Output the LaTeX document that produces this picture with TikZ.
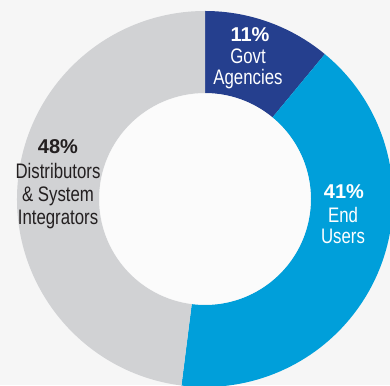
\documentclass[tikz,border=0pt]{standalone}
\usepackage{fontspec}
\setmainfont{Liberation Sans}
\newfontfamily\condfont[FakeStretch=0.8]{Liberation Sans}
\usepackage{tikz}

\definecolor{bgcol}{HTML}{F6F6F6}
\definecolor{holecol}{HTML}{FBFBFB}
\definecolor{govtcol}{HTML}{253F8E}
\definecolor{usercol}{HTML}{009FDA}
\definecolor{distcol}{HTML}{D1D2D4}
\definecolor{txtdark}{HTML}{231F20}

\begin{document}
\begin{tikzpicture}[x=1pt, y=1pt,
  pct/.style={font=\bfseries\fontsize{20}{22}\selectfont, inner sep=0pt},
  lbl/.style={align=center, font=\condfont\fontsize{21}{24}\selectfont, inner sep=0pt}]
			\fill[bgcol] (0,0) rectangle (390,385);
			\useasboundingbox (0,0) rectangle (390,385);
			\coordinate (c) at (205,186);
			% ring segments
			\foreach \a/\b/\col in {90/50.4/govtcol, 50.4/-97.2/usercol, -97.2/-270/distcol}
			  \fill[\col] ([shift={(\a:188)}]c) arc[start angle=\a, end angle=\b, radius=188]
			    -- ([shift={(\b:106)}]c) arc[start angle=\b, end angle=\a, radius=106] -- cycle;
			\fill[holecol] (c) circle (105.5);
			% labels
			\node[pct, white] (govtpct) at (250,350) {11\%};
			\node[lbl, white, anchor=north] (govtlbl) at (248,336) {Govt\\[-3pt]Agencies};
			\node[pct, white] (userpct) at (344,193) {41\%};
			\node[lbl, white, anchor=north] (userlbl) at (343,178) {End\\[-3pt]Users};
			\node[pct, txtdark] (distpct) at (58,238) {48\%};
			\node[lbl, txtdark, anchor=north] (distlbl) at (58,222) {Distributors\\[-1pt]\& System\\[-1pt]Integrators};
		\end{tikzpicture}
\end{document}
